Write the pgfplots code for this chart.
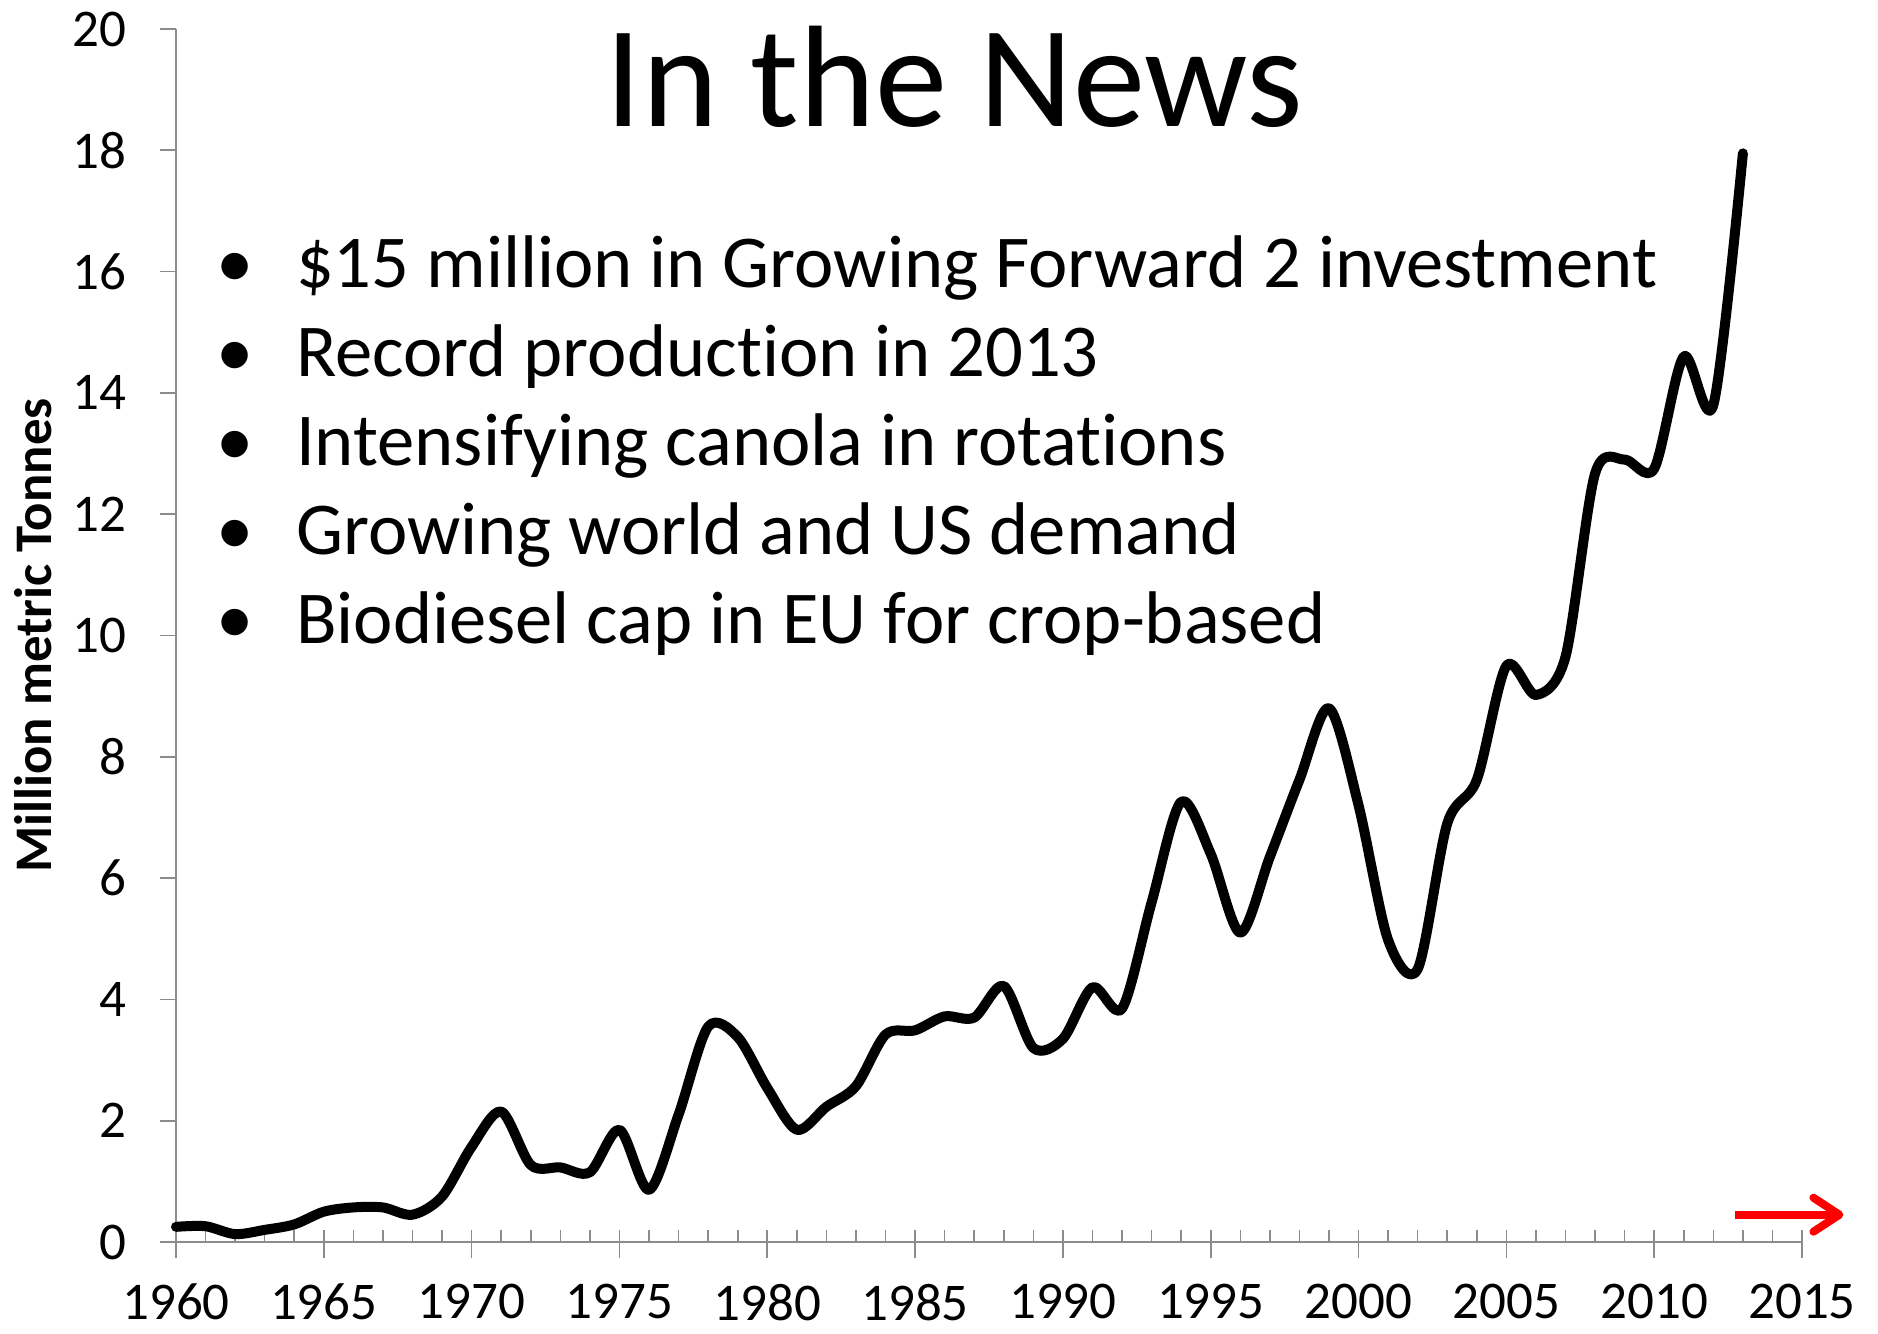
\documentclass[border=0pt]{standalone}
\usepackage{fontspec}
\setmainfont{Carlito}[Ligatures=NoCommon]
\usepackage{pgfplots}
\usepackage{pgfplotstable}
\pgfplotsset{compat=1.18}
\usetikzlibrary{arrows.meta}
\definecolor{axgray}{HTML}{8C8C8C}

\pgfplotstableread{
year value
1960 0.25
1961 0.26
1962 0.13
1963 0.20
1964 0.29
1965 0.50
1966 0.57
1967 0.57
1968 0.45
1969 0.75
1970 1.57
1971 2.15
1972 1.27
1973 1.23
1974 1.15
1975 1.85
1976 0.86
1977 2.10
1978 3.55
1979 3.38
1980 2.54
1981 1.85
1982 2.23
1983 2.57
1984 3.42
1985 3.49
1986 3.72
1987 3.70
1988 4.22
1989 3.20
1990 3.35
1991 4.20
1992 3.85
1993 5.60
1994 7.26
1995 6.40
1996 5.10
1997 6.35
1998 7.62
1999 8.80
2000 7.20
2001 4.98
2002 4.50
2003 6.90
2004 7.62
2005 9.50
2006 9.02
2007 9.65
2008 12.67
2009 12.90
2010 12.75
2011 14.60
2012 13.80
2013 17.95
}\canola

\newcommand{\bfont}{\fontsize{37.3}{37.3}\selectfont}

\begin{document}
\begin{tikzpicture}
\begin{axis}[
  name=ax,
  scale only axis,
  width=813pt, height=606.5pt,
  xmin=1960, xmax=2015, ymin=0, ymax=20,
  axis x line*=bottom, axis y line*=left,
  axis line style={axgray, line width=0.8pt},
  xtick={1960,1965,...,2015},
  minor x tick num=4,
  ytick={0,2,...,20},
  xtick align=inside,
  ytick align=outside,
  major tick length=6pt, minor tick length=6pt,
  tick style={axgray, line width=0.8pt},
  extra x ticks={1960,1965,...,2015}, extra x tick labels={},
  extra x tick style={xtick align=outside, major tick length=8pt},
  extra y ticks={0,2,...,20}, extra y tick labels={},
  extra y tick style={ytick align=outside, major tick length=8pt},
  ticklabel style={font=\fontsize{26.5}{26.5}\selectfont, text=black},
  /pgf/number format/assume math mode=true,
  /pgf/number format/1000 sep={},
  yticklabel style={xshift=-15.4pt},
  xticklabel style={yshift=-17.5pt},
  ylabel={Million metric Tonnes},
  every axis y label/.style={at={(rel axis cs:-0.088,0.5)}, rotate=90, anchor=center, font=\fontsize{26.4}{26.4}\selectfont\bfseries},
  clip=false,
]
\addplot[black, line width=5pt, line cap=round, line join=round, smooth, tension=0.5] table[x=year, y=value] {\canola};

\addplot[red, line width=4pt, -{Straight Barb[length=13pt,width=17pt,round]}] coordinates {(2012.72,0.45) (2016.4,0.45)};

\node[anchor=base, inner sep=0, font=\fontsize{72.3}{72.3}\selectfont] at (axis cs:1986.33,18.39) {In the News};

\node[anchor=base, inner sep=0, font=\bfont] at (axis cs:1962,15.73) {\textbullet};
\node[anchor=base west, inner sep=0, font=\bfont] at (axis cs:1964.05,15.73) {\$15 million in Growing Forward 2 investment};
\node[anchor=base, inner sep=0, font=\bfont] at (axis cs:1962,14.27) {\textbullet};
\node[anchor=base west, inner sep=0, font=\bfont] at (axis cs:1964.05,14.27) {Record production in 2013};
\node[anchor=base, inner sep=0, font=\bfont] at (axis cs:1962,12.81) {\textbullet};
\node[anchor=base west, inner sep=0, font=\bfont] at (axis cs:1964.05,12.81) {Intensifying canola in rotations};
\node[anchor=base, inner sep=0, font=\bfont] at (axis cs:1962,11.33) {\textbullet};
\node[anchor=base west, inner sep=0, font=\bfont] at (axis cs:1964.05,11.33) {Growing world and US demand};
\node[anchor=base, inner sep=0, font=\bfont] at (axis cs:1962,9.87) {\textbullet};
\node[anchor=base west, inner sep=0, font=\bfont] at (axis cs:1964.05,9.87) {Biodiesel cap in EU for crop-based};
\end{axis}
\pgfresetboundingbox
\path ([xshift=-88pt,yshift=-45.5pt]ax.south west) rectangle ([xshift=38pt,yshift=14.5pt]ax.north east);
\end{tikzpicture}
\end{document}
